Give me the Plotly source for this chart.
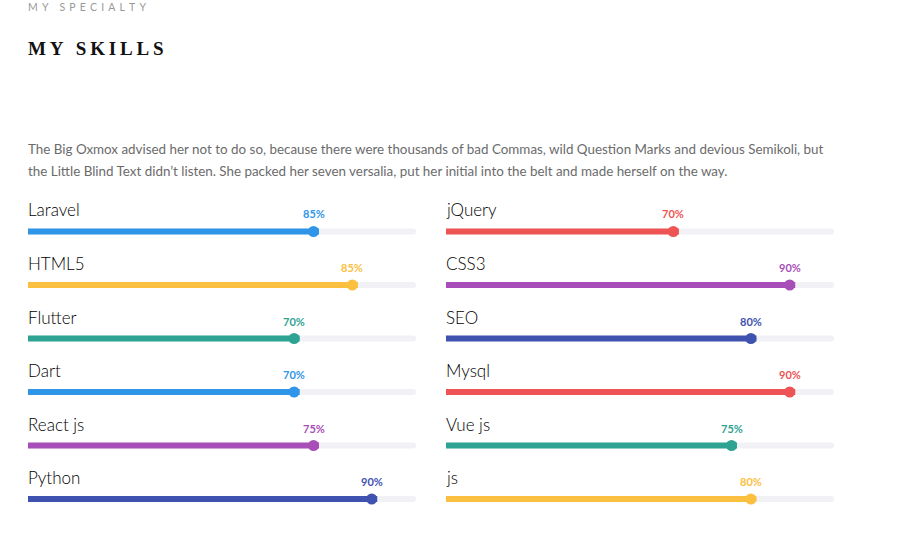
import plotly.graph_objects as go

# ---- data ----
left_skills = ["Laravel", "HTML5", "Flutter", "Dart", "React js", "Python"]
left_labels = [85, 85, 70, 70, 75, 90]          # printed percentages
left_fill = [75, 85, 70, 70, 75, 90]            # bar lengths
left_colors = ["#2f95e9", "#fbc03f", "#2ea393", "#2f95e9", "#a84eb8", "#4052b0"]

right_skills = ["jQuery", "CSS3", "SEO", "Mysql", "Vue js", "js"]
right_labels = [70, 90, 80, 90, 75, 80]
right_fill = [60, 90, 80, 90, 75, 80]
right_colors = ["#ed5453", "#a84eb8", "#4052b0", "#ed5453", "#2ea393", "#fbc03f"]

W, H = 901, 550
TRACK = "#f1f1f6"
LABEL_FONT = "Lato"

fig = go.Figure()

cols = [
    dict(x0=28, x1=416, xa="x", ya="y", skills=left_skills, labels=left_labels,
         fill=left_fill, colors=left_colors),
    dict(x0=446, x1=834, xa="x2", ya="y2", skills=right_skills, labels=right_labels,
         fill=right_fill, colors=right_colors),
]

row_top_px = 231.5
row_step_px = 53.5
y_dom_top_px, y_dom_bot_px = 195, 525
r_top = (y_dom_top_px - row_top_px) / row_step_px
r_bot = (y_dom_bot_px - row_top_px) / row_step_px
bar_w = 6 / row_step_px
dot_r_px = 5.5

annotations = []
for c in cols:
    n = len(c["skills"])
    rows = list(range(n))
    px_per_unit = (c["x1"] - c["x0"]) / 100.0
    dot_off = dot_r_px / px_per_unit
    fig.add_trace(go.Bar(x=[100] * n, y=rows, orientation="h", width=bar_w,
                         marker=dict(color=TRACK, cornerradius=3, line_width=0),
                         xaxis=c["xa"], yaxis=c["ya"], hoverinfo="skip", showlegend=False))
    fig.add_trace(go.Bar(x=c["fill"], y=rows, orientation="h", width=bar_w,
                         marker=dict(color=c["colors"], cornerradius=3, line_width=0),
                         xaxis=c["xa"], yaxis=c["ya"], hoverinfo="skip", showlegend=False))
    dot_x = [v - dot_off for v in c["fill"]]
    fig.add_trace(go.Scatter(x=dot_x, y=rows, mode="markers",
                             marker=dict(size=11, color=c["colors"], line_width=0),
                             xaxis=c["xa"], yaxis=c["ya"], hoverinfo="skip", showlegend=False))
    for i in rows:
        annotations.append(dict(x=0, y=i, xref=c["xa"], yref=c["ya"], text=c["skills"][i],
                                showarrow=False, xanchor="left", yanchor="middle", yshift=21.5,
                                xshift=-1, borderpad=0,
                                font=dict(family=LABEL_FONT, size=17, color="#000000",
                                          weight=300)))
        annotations.append(dict(x=dot_x[i], y=i, xref=c["xa"], yref=c["ya"],
                                text="<b>%d%%</b>" % c["labels"][i],
                                showarrow=False, xanchor="center", yanchor="middle", yshift=17.5,
                                borderpad=0,
                                font=dict(family=LABEL_FONT, size=11, color=c["colors"][i])))

def spaced(s, gap):
    return gap.join(list(s))

annotations.append(dict(x=28 / W, y=1 - 7 / H, xref="paper", yref="paper",
                        text=spaced("MY SPECIALTY", "\u2004\u200a"), borderpad=0, xshift=-1,
                        showarrow=False, xanchor="left", yanchor="middle",
                        font=dict(family="Lato", size=10.5, color="#999999")))
annotations.append(dict(x=28 / W, y=1 - 48 / H, xref="paper", yref="paper",
                        text="<b>" + spaced("MY SKILLS", "\u2009") + "</b>", borderpad=0,
                        xshift=-1,
                        showarrow=False, xanchor="left", yanchor="middle",
                        font=dict(family="Liberation Serif", size=19, color="#111111")))
para1 = ("The Big Oxmox advised her not to do so, because there were thousands of bad Commas, "
         "wild Question Marks and devious Semikoli, but")
para2 = ("the Little Blind Text didn\u2019t listen. She packed her seven versalia, put her initial "
         "into the belt and made herself on the way.")
annotations.append(dict(x=28 / W, y=1 - 149 / H, xref="paper", yref="paper", text=para1,
                        showarrow=False, xanchor="left", yanchor="middle", borderpad=0, xshift=-1,
                        font=dict(family="Lato", size=13.4, color="#6b6b6b")))
annotations.append(dict(x=28 / W, y=1 - 171 / H, xref="paper", yref="paper", text=para2,
                        showarrow=False, xanchor="left", yanchor="middle", borderpad=0, xshift=-1,
                        font=dict(family="Lato", size=13.4, color="#6b6b6b")))

ydom = [1 - y_dom_bot_px / H, 1 - y_dom_top_px / H]
axis_common = dict(showgrid=False, zeroline=False, showticklabels=False, showline=False,
                   fixedrange=True)
fig.update_layout(
    width=W, height=H, margin=dict(l=0, r=0, t=0, b=0),
    paper_bgcolor="white", plot_bgcolor="white",
    barmode="overlay", showlegend=False,
    xaxis=dict(domain=[28 / W, 416 / W], range=[0, 100], **axis_common),
    xaxis2=dict(domain=[446 / W, 834 / W], range=[0, 100], **axis_common),
    yaxis=dict(domain=ydom, range=[r_bot, r_top], anchor="x", **axis_common),
    yaxis2=dict(domain=ydom, range=[r_bot, r_top], anchor="x2", **axis_common),
    annotations=annotations,
)

fig.write_html("out.html")
